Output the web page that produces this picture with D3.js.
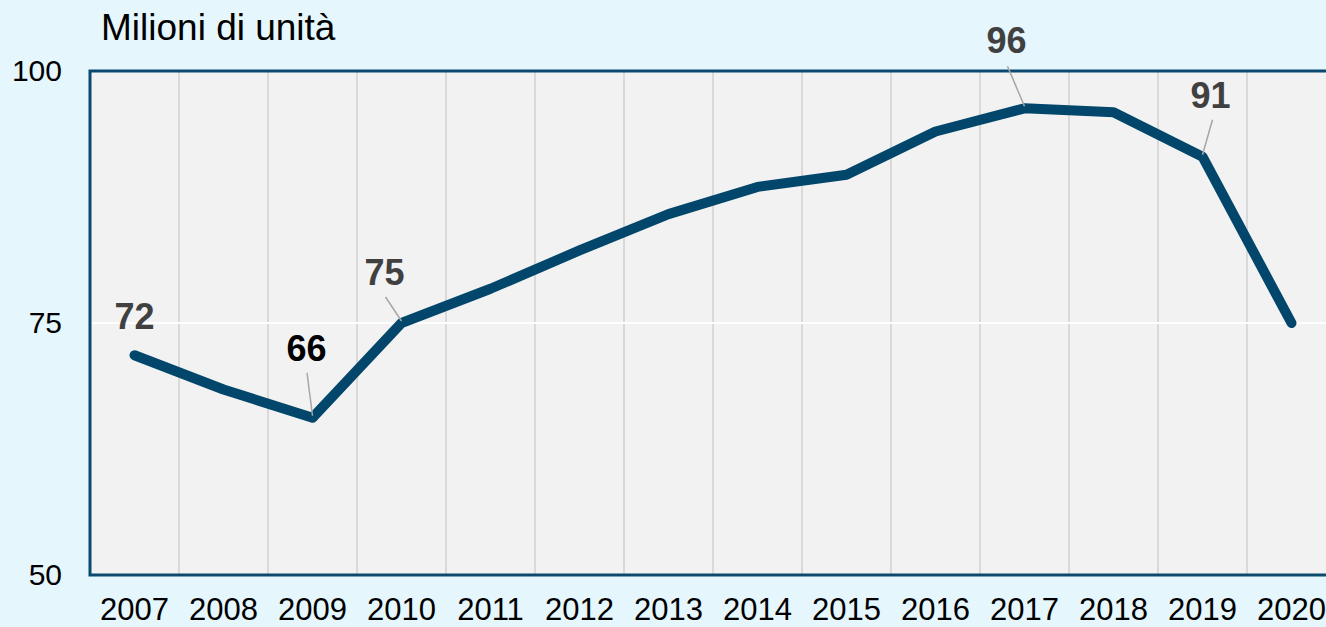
<!DOCTYPE html>
<html>
<head>
<meta charset="utf-8">
<script src="https://cdn.jsdelivr.net/npm/d3@7"></script>
<style>
  html, body { margin: 0; padding: 0; background: #e5f6fd; overflow: hidden; }
  svg { display: block; font-family: "Liberation Sans", Arial, sans-serif; }
</style>
</head>
<body>
<div id="chart"></div>
<script>
(function() {
  'use strict';

  // data
  var years = ['2007', '2008', '2009', '2010', '2011', '2012', '2013',
               '2014', '2015', '2016', '2017', '2018', '2019', '2020'];
  var units = [71.8, 68.4, 65.6, 75.0, 78.4, 82.2, 85.8,
               88.5, 89.7, 94.0, 96.3, 95.9, 91.5, 75.0];
  var yTicks = [50, 75, 100];
  var labelYears = ['2007', '2009', '2010', '2017', '2019'];
  var labelTexts = ['72', '66', '75', '96', '91'];

  // where each value label sits relative to its point
  var labelLayout = {
    '2007': {dx: 0, dy: -26, color: '#404040', leader: null},
    '2009': {dx: -6, dy: -57, color: '#000000', leader: [-5.5, -45]},
    '2010': {dx: -17, dy: -38, color: '#404040', leader: [-16, -26]},
    '2017': {dx: -18, dy: -55, color: '#404040', leader: [-17, -42]},
    '2019': {dx: 8, dy: -49, color: '#404040', leader: [10, -37]}
  };

  var W = 1326, H = 627,
    plot = {left: 90, top: 71, bottom: 575},
    step = 89;

  var svg = d3.select('#chart').append('svg')
    .attr('width', W)
    .attr('height', H);

  var x = d3.scaleBand()
    .domain(years)
    .range([plot.left, plot.left + step * years.length])
    .padding(0);

  var y = d3.scaleLinear()
    .domain([50, 100])
    .range([plot.bottom, plot.top]);

  // plot background
  svg.append('rect')
    .attr('x', plot.left)
    .attr('y', plot.top)
    .attr('width', step * years.length)
    .attr('height', plot.bottom - plot.top)
    .style('fill', '#f2f2f2');

  // vertical grid between categories
  svg.append('g')
    .selectAll('line')
    .data(years.slice(1))
    .enter().append('line')
    .attr('x1', function(d) { return x(d); })
    .attr('x2', function(d) { return x(d); })
    .attr('y1', plot.top)
    .attr('y2', plot.bottom)
    .style('stroke', '#d9d9d9')
    .style('stroke-width', 2);

  // horizontal grid
  svg.append('g')
    .selectAll('line')
    .data(yTicks.slice(1, -1))
    .enter().append('line')
    .attr('x1', plot.left)
    .attr('x2', plot.left + step * years.length)
    .attr('y1', function(d) { return y(d); })
    .attr('y2', function(d) { return y(d); })
    .style('stroke', '#ffffff')
    .style('stroke-width', 2);

  // frame
  svg.append('rect')
    .attr('x', plot.left)
    .attr('y', plot.top)
    .attr('width', step * years.length)
    .attr('height', plot.bottom - plot.top)
    .style('fill', 'none')
    .style('stroke', '#0b4a6e')
    .style('stroke-width', 3);

  // y axis
  var yAxis = svg.append('g')
    .attr('transform', 'translate(' + (plot.left - 28) + ',0)')
    .call(d3.axisLeft(y).tickValues(yTicks).tickSize(0).tickPadding(0));
  yAxis.select('.domain').remove();
  yAxis.selectAll('text')
    .style('font-size', '30px')
    .style('font-family', '"Liberation Sans", Arial, sans-serif')
    .style('fill', '#000');

  // x axis
  var xAxis = svg.append('g')
    .attr('transform', 'translate(0,' + plot.bottom + ')')
    .call(d3.axisBottom(x).tickSize(0).tickPadding(0));
  xAxis.select('.domain').remove();
  xAxis.selectAll('text')
    .attr('dy', null)
    .attr('y', 45)
    .style('font-size', '31px')
    .style('font-family', '"Liberation Sans", Arial, sans-serif')
    .style('fill', '#000');

  // unit title
  svg.append('text')
    .attr('x', 101)
    .attr('y', 40)
    .style('font-size', '37px')
    .style('fill', '#000')
    .text('Milioni di unità');

  // the line
  var series = years.map(function(d, i) { return {year: d, value: units[i]}; });
  var line = d3.line()
    .x(function(d) { return x(d.year) + x.bandwidth() / 2; })
    .y(function(d) { return y(d.value); });

  svg.append('path')
    .datum(series)
    .attr('d', line)
    .style('fill', 'none')
    .style('stroke', '#02476b')
    .style('stroke-width', 10)
    .style('stroke-linejoin', 'round')
    .style('stroke-linecap', 'round');

  // value labels with leader lines
  labelYears.forEach(function(yr, i) {
    var v = units[years.indexOf(yr)];
    var px = x(yr) + x.bandwidth() / 2, py = y(v);
    var lay = labelLayout[yr];
    if (lay.leader) {
      svg.append('line')
        .attr('x1', px + lay.leader[0])
        .attr('y1', py + lay.leader[1])
        .attr('x2', px)
        .attr('y2', py - 2)
        .style('stroke', '#a6a6a6')
        .style('stroke-width', 1.5);
    }
    svg.append('text')
      .attr('x', px + lay.dx)
      .attr('y', py + lay.dy)
      .attr('text-anchor', 'middle')
      .style('font-size', '36px')
      .style('font-weight', 'bold')
      .style('fill', lay.color)
      .text(labelTexts[i]);
  });
})();
</script>
</body>
</html>
